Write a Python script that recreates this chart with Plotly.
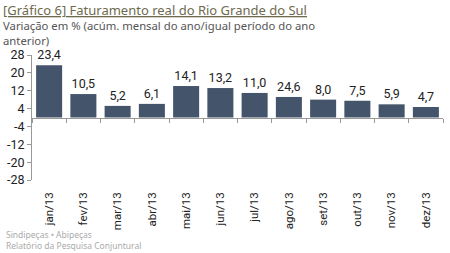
import plotly.graph_objects as go

categories = ["jan/13", "fev/13", "mar/13", "abr/13", "mai/13", "jun/13",
              "jul/13", "ago/13", "set/13", "out/13", "nov/13", "dez/13"]
values = [23.4, 10.5, 5.2, 6.1, 14.1, 13.2, 11.0, 9.2, 8.0, 7.5, 5.9, 4.7]
value_labels = ["23,4", "10,5", "5,2", "6,1", "14,1", "13,2", "11,0", "24,6",
                "8,0", "7,5", "5,9", "4,7"]
y_ticks = [28, 20, 12, 4, -4, -12, -20, -28]

PT, PH, PW = 55, 125, 413


def py(px):
    """convert pixel row from top of the figure into paper y"""
    return 1 + (PT - px) / PH


fig = go.Figure()
fig.add_trace(go.Bar(
    x=categories, y=values, text=value_labels, textposition="outside",
    textfont=dict(family="Roboto", size=12.5, color="#222222"),
    marker=dict(color="#44546A", line=dict(width=0)),
    cliponaxis=False, showlegend=False, hoverinfo="skip",
))
fig.add_trace(go.Scatter(
    x=categories, y=[None] * len(categories), xaxis="x2",
    mode="markers", showlegend=False, hoverinfo="skip",
))

fig.update_layout(
    width=450, height=253,
    margin=dict(l=30, r=7, t=PT, b=73),
    paper_bgcolor="white", plot_bgcolor="white",
    bargap=0.24,
    font=dict(family="Roboto", color="#333333"),
    xaxis=dict(
        type="category", range=[-0.5, 11.5],
        showline=False, ticks="", showgrid=False, zeroline=False,
        tickangle=-90, tickfont=dict(family="Roboto", size=11.5, color="#222222"),
        ticklabelstandoff=9,
    ),
    xaxis2=dict(
        type="category", range=[-0.5, 11.5], overlaying="x",
        anchor="free", position=0.5, side="bottom",
        showline=True, linecolor="#999999", linewidth=1,
        ticks="outside", ticklen=4, tickcolor="#999999", tickson="boundaries",
        showticklabels=False, showgrid=False, zeroline=False,
    ),
    yaxis=dict(
        range=[-28, 28], tickvals=y_ticks, ticktext=[str(v) for v in y_ticks],
        showline=True, linecolor="#999999", linewidth=1,
        ticks="outside", ticklen=4, tickcolor="#999999",
        showgrid=False, zeroline=False,
        tickfont=dict(family="Roboto", size=12.5, color="#222222"),
    ),
    annotations=[
        dict(text="<u>[Gráfico 6] Faturamento real do Rio Grande do Sul</u>",
             xref="paper", yref="paper", x=-30/PW, y=py(0), xanchor="left", yanchor="top",
             borderpad=0, showarrow=False,
             font=dict(family="Noto Sans", size=13, color="#6E6A4E")),
        dict(text="Variação em % (acúm. mensal do ano/igual período do ano",
             xref="paper", yref="paper", x=-30/PW, y=py(17), xanchor="left", yanchor="top",
             borderpad=0, showarrow=False,
             font=dict(family="Noto Sans", size=11.3, color="#555555")),
        dict(text="anterior)",
             xref="paper", yref="paper", x=-30/PW, y=py(32), xanchor="left", yanchor="top",
             borderpad=0, showarrow=False,
             font=dict(family="Noto Sans", size=11.3, color="#555555")),
        dict(text="Sindipeças • Abipeças<br>Relatório da Pesquisa Conjuntural",
             xref="paper", yref="paper", x=-28/PW, y=py(240), xanchor="left", yanchor="middle",
             align="left", showarrow=False,
             font=dict(family="Noto Sans", size=8.5, color="#AAAAAA")),
    ],
)

fig.write_html("out.html")
